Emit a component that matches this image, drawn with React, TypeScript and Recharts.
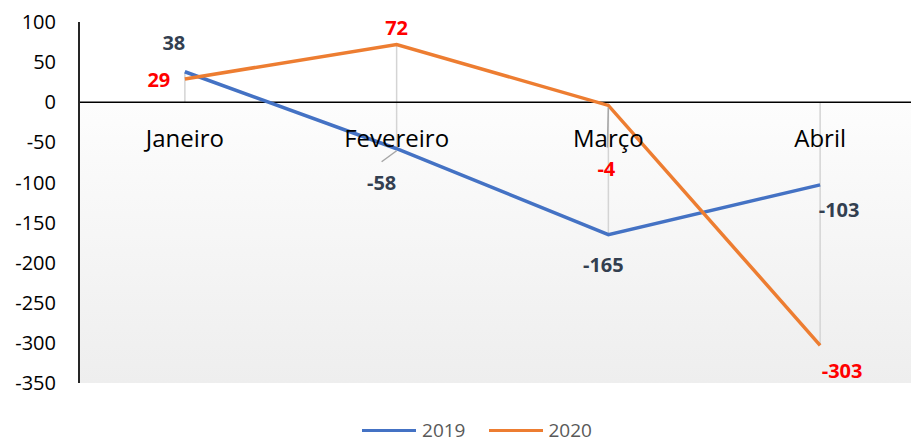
import React from 'react';
import {
  LineChart, Line, XAxis, YAxis, ReferenceLine, ReferenceArea, ReferenceDot,
  LabelList, Legend,
} from 'recharts';

const categories = ['Janeiro', 'Fevereiro', 'Março', 'Abril'];
const values2019 = [38, -58, -165, -103];
const values2020 = [29, 72, -4, -303];
const yTicks = [100, 50, 0, -50, -100, -150, -200, -250, -300, -350];

const FONT = '"Open Sans", "DejaVu Sans", sans-serif';
const BLUE = '#4472C4';
const ORANGE = '#ED7D31';

const data = categories.map((month, i) => ({
  month,
  y2019: values2019[i],
  y2020: values2020[i],
}));

// label placement relative to the point, per category
const offsets2019 = [[-11, -29], [-15, 34], [-5, 30], [19, 25]];
const offsets2020 = [[-26, 1], [0, -17], [-2, 63], [22, 25]];

const makeLabel = (offsets: number[][], color: string, series: string) => (props: any) => {
  const { x, y, value, index } = props;
  const [dx, dy] = offsets[index];
  let leader = null;
  if (series === '2019' && index === 1) {
    leader = <line x1={x} y1={y + 2} x2={x - 15} y2={y + 13} stroke="#a6a6a6" strokeWidth={1.5} />;
  }
  if (series === '2020' && index === 2) {
    leader = <line x1={x} y1={y + 2} x2={x - 1} y2={y + 42} stroke="#a6a6a6" strokeWidth={1.5} />;
  }
  return (
    <g>
      {leader}
      <text
        x={x + dx}
        y={y + dy}
        textAnchor="middle"
        dominantBaseline="central"
        fill={color}
        fontFamily={FONT}
        fontWeight="bold"
        fontSize={20}
      >
        {value}
      </text>
    </g>
  );
};

const renderLegend = () => (
  <div
    style={{
      height: 61,
      display: 'flex',
      alignItems: 'flex-end',
      justifyContent: 'center',
      paddingLeft: 28,
      paddingBottom: 1,
      boxSizing: 'border-box',
    }}
  >
    {[{ name: '2019', color: BLUE }, { name: '2020', color: ORANGE }].map((s, i) => (
      <div key={s.name} style={{ display: 'flex', alignItems: 'center', marginLeft: i ? 23 : 0 }}>
        <span style={{ display: 'inline-block', width: 54, height: 3, background: s.color, marginRight: 6 }} />
        <span style={{ fontFamily: FONT, fontSize: 19, color: '#595959', lineHeight: '26px' }}>{s.name}</span>
      </div>
    ))}
  </div>
);

export default function App() {
  return (
    <div style={{ position: 'absolute', left: 0, top: 0, width: 911, height: 444, overflow: 'hidden', background: '#fff' }}>
      <LineChart
        width={930}
        height={444}
        data={data}
        margin={{ top: 22, right: 4, left: 0, bottom: 0 }}
      >
        <defs>
          <linearGradient id="belowZero" x1="0" y1="0" x2="0" y2="1">
            <stop offset="0%" stopColor="#fdfdfd" />
            <stop offset="100%" stopColor="#eeeeee" />
          </linearGradient>
        </defs>
        <XAxis dataKey="month" hide scale="band" />
        <YAxis
          width={79}
          domain={[-350, 100]}
          ticks={yTicks}
          interval={0}
          tickLine={false}
          tickSize={0}
          tickMargin={23}
          axisLine={{ stroke: '#262626', strokeWidth: 2 }}
          tick={{ fill: '#000', fontSize: 20, fontFamily: FONT }}
        />
        <ReferenceArea y1={0} y2={-350} fill="url(#belowZero)" fillOpacity={1} stroke="none" />
        {categories.map((c, i) => (
          <ReferenceLine
            key={c}
            segment={[
              { x: c, y: Math.max(0, values2019[i], values2020[i]) },
              { x: c, y: Math.min(0, values2019[i], values2020[i]) },
            ]}
            stroke="#d4d4d4"
            strokeWidth={1.5}
          />
        ))}
        <ReferenceLine y={0} stroke="#000" strokeWidth={1.5} />
        {categories.map((c) => (
          <ReferenceDot
            key={'lbl' + c}
            x={c}
            y={0}
            r={0}
            fill="none"
            stroke="none"
            label={{ value: c, position: 'bottom', offset: 28, fill: '#000', fontSize: 24, fontFamily: FONT }}
          />
        ))}
        <Legend verticalAlign="bottom" content={renderLegend} />
        <Line
          type="linear"
          dataKey="y2019"
          name="2019"
          stroke={BLUE}
          strokeWidth={3.5}
          dot={false}
          isAnimationActive={false}
        >
          <LabelList dataKey="y2019" content={makeLabel(offsets2019, '#333F50', '2019')} />
        </Line>
        <Line
          type="linear"
          dataKey="y2020"
          name="2020"
          stroke={ORANGE}
          strokeWidth={3.5}
          dot={false}
          isAnimationActive={false}
        >
          <LabelList dataKey="y2020" content={makeLabel(offsets2020, '#FF0000', '2020')} />
        </Line>
      </LineChart>
    </div>
  );
}
